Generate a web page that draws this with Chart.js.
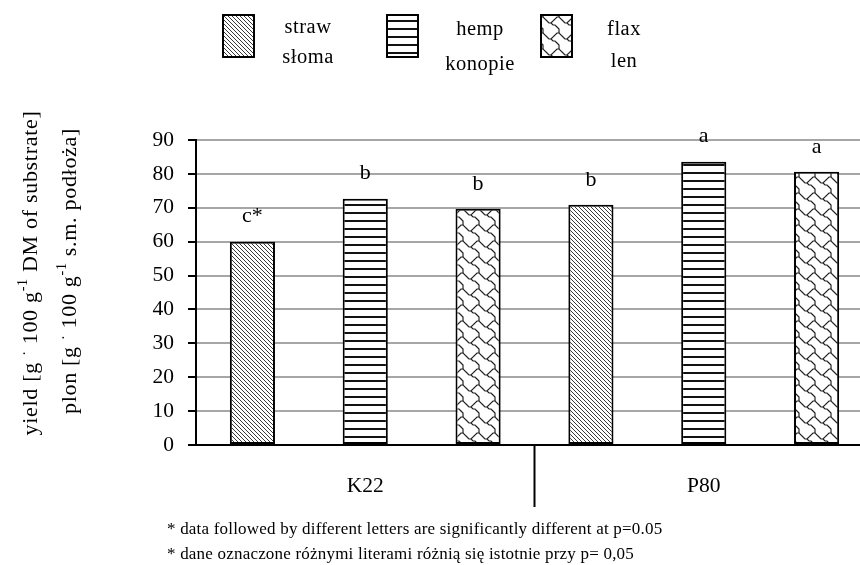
<!DOCTYPE html>
<html>
<head>
<meta charset="utf-8">
<script src="https://cdn.jsdelivr.net/npm/chart.js@4.4.1/dist/chart.umd.min.js"></script>
<style>
html, body { margin: 0; padding: 0; background: #fff; overflow: hidden; width: 860px; height: 565px; }
#wrap { position: absolute; left: 0; top: 0; width: 880px; height: 565px; }
</style>
</head>
<body>
<div id="wrap"><canvas id="yieldChart" width="880" height="565"></canvas></div>
<script>
// ---------------------------------------------------------------
// 1. DATA
// ---------------------------------------------------------------
const categories = ['K22', 'P80'];
const seriesEn = ['straw', 'hemp', 'flax'];
const seriesPl = ['słoma', 'konopie', 'len'];

const strawValues = [60.0, 70.9];
const hempValues  = [72.7, 83.6];
const flaxValues  = [69.7, 80.6];

const strawLetters = ['c*', 'b'];
const hempLetters  = ['b', 'a'];
const flaxLetters  = ['b', 'a'];

const yMin = 0, yMax = 90, yStep = 10;

const noteEn = '* data followed by different letters are significantly different at p=0.05';
const notePl = '* dane oznaczone różnymi literami różnią się istotnie przy p= 0,05';

const FONT = '"Liberation Serif", "Times New Roman", serif';

// ---------------------------------------------------------------
// 2. PATTERNS
// ---------------------------------------------------------------
function makeTile(w, h, draw) {
    const c = document.createElement('canvas');
    c.width = w; c.height = h;
    const g = c.getContext('2d');
    g.fillStyle = '#fff';
    g.fillRect(0, 0, w, h);
    draw(g);
    return c;
}

const ctxMain = document.getElementById('yieldChart').getContext('2d');

// diagonal "\" stripes
const strawTile = makeTile(4, 4, g => {
    g.fillStyle = '#3a3a3a';
    for (let i = 0; i < 4; i++) g.fillRect(i, i, 1, 1);
});

// horizontal lines
const hempTile = makeTile(1, 8, g => {
    g.fillStyle = '#111';
    g.fillRect(0, 4, 1, 2);
});

// shingle-like cells
const flaxTile = makeTile(16, 16, g => {
    g.strokeStyle = '#222';
    g.lineWidth = 1.2;
    for (const ox of [-16, 0, 16]) {
        for (const oy of [-16, 0, 16]) {
            g.beginPath();
            g.moveTo(ox + 1, oy + 3); g.lineTo(ox + 5, oy + 7); g.lineTo(ox + 7, oy + 7);
            g.lineTo(ox + 13, oy + 1); g.lineTo(ox + 15, oy + 1); g.lineTo(ox + 17, oy + 3);
            g.moveTo(ox + 7, oy + 7); g.lineTo(ox + 9, oy + 9); g.lineTo(ox + 11, oy + 9);
            g.lineTo(ox + 13, oy + 11); g.lineTo(ox + 15, oy + 13); g.lineTo(ox + 15, oy + 17);
            g.stroke();
        }
    }
});

const patterns = [
    ctxMain.createPattern(strawTile, 'repeat'),
    ctxMain.createPattern(hempTile, 'repeat'),
    ctxMain.createPattern(flaxTile, 'repeat')
];
const letters = [strawLetters, hempLetters, flaxLetters];

// ---------------------------------------------------------------
// 3. PLUGINS (letters, divider, legend, titles, notes)
// ---------------------------------------------------------------
function drawRich(ctx, segs, cx, cy, spacing) {
    ctx.save();
    ctx.translate(cx, cy);
    ctx.rotate(-Math.PI / 2);
    ctx.textBaseline = 'alphabetic';
    ctx.textAlign = 'left';
    ctx.fillStyle = '#000';
    ctx.letterSpacing = spacing + 'px';
    let total = 0;
    segs.forEach(s => { ctx.font = s.size + 'px ' + FONT; total += ctx.measureText(s.t).width; });
    let x = -total / 2;
    segs.forEach(s => {
        ctx.font = s.size + 'px ' + FONT;
        ctx.fillText(s.t, x, 7 + (s.dy || 0));
        x += ctx.measureText(s.t).width;
    });
    ctx.restore();
}

const decorPlugin = {
    id: 'decor',
    afterDatasetsDraw(chart) {
        const ctx = chart.ctx;
        ctx.save();
        ctx.fillStyle = '#000';
        ctx.font = '22px ' + FONT;
        ctx.textAlign = 'center';
        ctx.textBaseline = 'middle';
        chart.data.datasets.forEach((ds, i) => {
            chart.getDatasetMeta(i).data.forEach((bar, j) => {
                ctx.fillText(letters[i][j], bar.x, bar.y - 25);
            });
        });
        ctx.restore();
    },
    afterDraw(chart) {
        const ctx = chart.ctx;
        const xs = chart.scales.x;
        const area = chart.chartArea;

        // category divider
        const xd = (xs.getPixelForValue(0) + xs.getPixelForValue(1)) / 2;
        ctx.save();
        ctx.strokeStyle = '#000';
        ctx.lineWidth = 2;
        ctx.beginPath();
        ctx.moveTo(xd, area.bottom);
        ctx.lineTo(xd, 507);
        ctx.stroke();

        // legend
        const boxX = [223, 387, 541];
        const txtX = [308, 480, 624];
        const base1 = [33, 35, 35];
        const base2 = [63, 70, 67];
        ctx.font = '20.5px ' + FONT;
        ctx.letterSpacing = '0.5px';
        ctx.textAlign = 'center';
        ctx.textBaseline = 'alphabetic';
        for (let i = 0; i < 3; i++) {
            ctx.fillStyle = patterns[i];
            ctx.fillRect(boxX[i], 15, 31, 42);
            ctx.lineWidth = 2;
            ctx.strokeStyle = '#000';
            ctx.strokeRect(boxX[i], 15, 31, 42);
            ctx.fillStyle = '#000';
            ctx.fillText(seriesEn[i], txtX[i], base1[i]);
            ctx.fillText(seriesPl[i], txtX[i], base2[i]);
        }

        // footnotes
        ctx.font = '17px ' + FONT;
        ctx.letterSpacing = '0.2px';
        ctx.textAlign = 'left';
        ctx.textBaseline = 'middle';
        ctx.fillText(noteEn, 167, 530);
        ctx.fillText(notePl, 167, 555);
        ctx.restore();

        // y axis titles
        drawRich(ctx, [
            { t: 'yield [g ', size: 22 },
            { t: '·', size: 14, dy: -8 },
            { t: ' 100 g', size: 22 },
            { t: '-1', size: 14, dy: -10 },
            { t: ' DM of substrate]', size: 22 }
        ], 30, 273, 0.7);
        drawRich(ctx, [
            { t: 'plon [g ', size: 22 },
            { t: '·', size: 14, dy: -8 },
            { t: ' 100 g', size: 22 },
            { t: '-1', size: 14, dy: -10 },
            { t: ' s.m. podłoża]', size: 22 }
        ], 69, 271, 0.7);
    }
};

// ---------------------------------------------------------------
// 4. CHART
// ---------------------------------------------------------------
const valueSets = [strawValues, hempValues, flaxValues];

new Chart(ctxMain, {
    type: 'bar',
    data: {
        labels: categories,
        datasets: valueSets.map((vals, i) => ({
            label: seriesEn[i],
            data: vals,
            backgroundColor: patterns[i],
            borderColor: '#000',
            borderWidth: 2,
            borderSkipped: false,
            barPercentage: 0.4,
            categoryPercentage: 1.0
        }))
    },
    options: {
        responsive: false,
        animation: false,
        layout: { padding: { left: 136, right: 7, top: 140, bottom: 0 } },
        plugins: { legend: { display: false }, tooltip: { enabled: false } },
        scales: {
            x: {
                grid: { display: false },
                border: { color: '#000', width: 2 },
                ticks: { color: '#000', font: { family: FONT, size: 21.5 }, padding: 20 },
                afterFit: s => { s.height = 120; }
            },
            y: {
                min: yMin,
                max: yMax,
                ticks: { stepSize: yStep, color: '#000', font: { family: FONT, size: 21.5 }, padding: 14 },
                grid: { color: '#a6a6a6', lineWidth: 2, tickColor: '#000', tickLength: 8, tickWidth: 2 },
                border: { color: '#000', width: 2 },
                afterFit: s => { s.width = 60; }
            }
        }
    },
    plugins: [decorPlugin]
});
</script>
</body>
</html>
